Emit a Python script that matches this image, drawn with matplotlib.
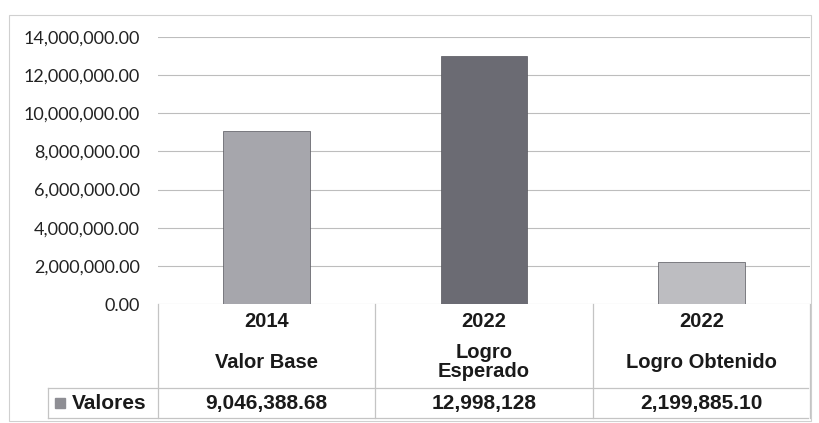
import matplotlib
matplotlib.use("Agg")
import matplotlib.pyplot as plt
from matplotlib.transforms import blended_transform_factory
from matplotlib.ticker import FuncFormatter
from matplotlib.patches import Rectangle
from matplotlib.lines import Line2D

years = ["2014", "2022", "2022"]
labels = ["Valor Base", "Logro\nEsperado", "Logro Obtenido"]
values = [9046388.68, 12998128, 2199885.10]
value_text = ["9,046,388.68", "12,998,128", "2,199,885.10"]
series_name = "Valores"
bar_colors = ["#a6a6ac", "#6b6b73", "#bdbdc1"]

W, H = 820, 423
fig = plt.figure(figsize=(W / 100, H / 100), dpi=100)

def fy(py):
    return 1 - py / H

def fx(px):
    return px / W

ax_left, ax_right, ax_top, ax_bot = 158, 810, 37, 304
ax = fig.add_axes([fx(ax_left), fy(ax_bot), fx(ax_right) - fx(ax_left), (ax_bot - ax_top) / H])

x = list(range(len(values)))
ax.bar(x, values, width=0.4, color=bar_colors, edgecolor="#55555c", linewidth=0.5, zorder=3)
ax.set_xlim(-0.5, 2.5)
ax.set_ylim(0, 14000000)
ax.set_yticks(range(0, 14000001, 2000000))
ax.yaxis.set_major_formatter(FuncFormatter(lambda v, p: f"{v:,.2f}"))
ax.grid(axis="y", color="#bdbdbd", linewidth=0.8, zorder=0)
ax.set_xticks([])
for s in ax.spines.values():
    s.set_visible(False)
ax.tick_params(axis="y", length=0, pad=13, labelsize=13, labelcolor="#222222")
for t in ax.get_yticklabels():
    t.set_fontfamily(["Lato", "DejaVu Sans"])

tr = blended_transform_factory(ax.transData, fig.transFigure)
lc = "#c4c4c4"
# table lines
hdr_top, hdr_bot, row_bot = 304, 388, 418
for xb in [-0.5, 0.5, 1.5, 2.5]:
    fig.add_artist(Line2D([xb, xb], [fy(hdr_top), fy(row_bot)], transform=tr, color=lc, lw=0.9))
fig.add_artist(Line2D([fx(48), fx(808)], [fy(hdr_bot), fy(hdr_bot)], color=lc, lw=0.9))
fig.add_artist(Line2D([fx(48), fx(808)], [fy(row_bot), fy(row_bot)], color=lc, lw=0.9))
fig.add_artist(Line2D([fx(48), fx(48)], [fy(hdr_bot), fy(row_bot)], color=lc, lw=0.9))

tfont = ["Liberation Sans", "DejaVu Sans"]
fs = 14.5
for i in x:
    fig.text(i, fy(321), years[i], transform=tr, ha="center", va="center",
             fontsize=fs, fontweight="bold", family=tfont, color="#1a1a1a")
    fig.text(i, fy(362), labels[i], transform=tr, ha="center", va="center",
             fontsize=fs, fontweight="bold", family=tfont, color="#1a1a1a", linespacing=1.0)
    fig.text(i, fy(403), value_text[i], transform=tr, ha="center", va="center",
             fontsize=15, fontweight="bold", family=tfont, color="#1a1a1a")

# legend key + series name
fig.add_artist(Rectangle((fx(55), fy(408)), fx(10), 10 / H, color="#8e8e94"))
fig.text(fx(72), fy(403), series_name, ha="left", va="center",
         fontsize=15, fontweight="bold", family=tfont, color="#1a1a1a")

# outer frame
fig.add_artist(Rectangle((fx(9), fy(421)), fx(811 - 9), (421 - 15) / H, fill=False,
                         edgecolor="#d0d0d0", lw=0.8))

fig.savefig("out.png", dpi=100)
